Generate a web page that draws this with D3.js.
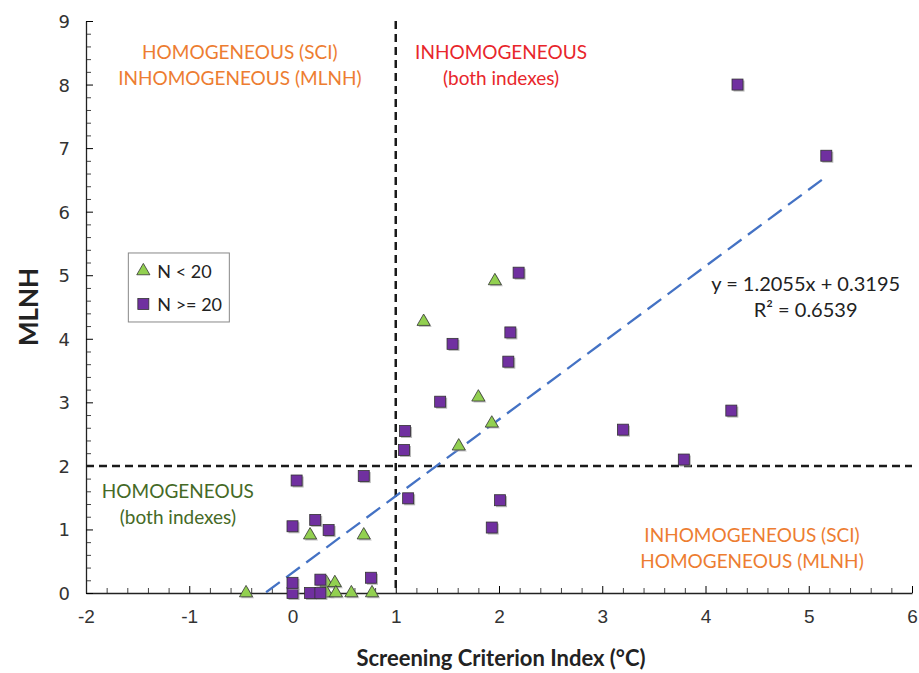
<!DOCTYPE html>
<meta charset="utf-8">
<script src="https://d3js.org/d3.v7.min.js"></script>
<body style="margin:0;background:white">
<div id="chart"></div>
</body>
<script>
// stations with fewer than 20 years (triangles)
const triX = [-0.45, 0.17, 0.33, 0.33, 0.41, 0.42, 0.57, 0.69, 0.77, 1.27, 1.61, 1.80, 1.93, 1.96];
const triY = [0, 0.91, 0.16, 0, 0.16, 0, 0, 0.91, 0, 4.27, 2.31, 3.08, 2.67, 4.91];

// stations with 20 years or more (squares)
const sqX = [0, 0, 0, 0.04, 0.17, 0.22, 0.27, 0.27, 0.35, 0.69, 0.76, 1.08, 1.09, 1.12, 1.43, 1.55, 1.93, 2.01, 2.09, 2.11, 2.19, 3.20, 3.79, 4.25, 4.31, 5.17];
const sqY = [0, 0.16, 1.05, 1.77, 0, 1.15, 0, 0.21, 0.99, 1.84, 0.24, 2.25, 2.55, 1.49, 3.01, 3.92, 1.03, 1.46, 3.64, 4.10, 5.04, 2.57, 2.10, 2.87, 8.00, 6.88];

// linear fit shown on the chart
const slope = 1.2055, intercept = 0.3195, r2 = 0.6539;

// thresholds
const sciLimit = 1, mlnhLimit = 2;

const xTicks = [-2, -1, 0, 1, 2, 3, 4, 5, 6];
const yTicks = [0, 1, 2, 3, 4, 5, 6, 7, 8, 9];

const W = 919, H = 673;
const margin = {top: 21, right: 7, bottom: 80, left: 86};
const w = W - margin.left - margin.right,
      h = H - margin.top - margin.bottom;

const svg = d3.select("#chart").append("svg")
  .attr("width", W).attr("height", H)
  .style("font-family", "Lato, 'Open Sans', sans-serif");

const g = svg.append("g").attr("transform", `translate(${margin.left},${margin.top})`);

const x = d3.scaleLinear().domain([-2, 6]).range([0, w]);
const y = d3.scaleLinear().domain([0, 9]).range([h, 0]);

g.append("clipPath").attr("id", "clip")
  .append("rect").attr("width", w).attr("height", h);

// minor ticks every 0.2
const minorX = d3.range(-2, 6.001, 0.2).filter(v => Math.abs(v - Math.round(v)) > 0.01);
const minorY = d3.range(0, 9.001, 0.2).filter(v => Math.abs(v - Math.round(v)) > 0.01);

g.append("g").attr("transform", `translate(0,${h})`)
  .call(d3.axisBottom(x).tickValues(minorX).tickSize(-5).tickFormat(""))
  .call(a => a.select(".domain").remove())
  .selectAll("line").attr("stroke", "#444");
g.append("g")
  .call(d3.axisLeft(y).tickValues(minorY).tickSize(-5).tickFormat(""))
  .call(a => a.select(".domain").remove())
  .selectAll("line").attr("stroke", "#444");

const xAxis = g.append("g").attr("transform", `translate(0,${h})`)
  .call(d3.axisBottom(x).tickValues(xTicks).tickFormat(d => String(d))
    .tickSizeInner(-7).tickSizeOuter(0).tickPadding(17));
xAxis.select(".domain").attr("stroke", "#222").attr("stroke-width", 1.3);
xAxis.selectAll("text").style("font-size", "19px").attr("fill", "#333");

const yAxis = g.append("g")
  .call(d3.axisLeft(y).tickValues(yTicks).tickFormat(d => String(d))
    .tickSizeInner(-7).tickSizeOuter(0).tickPadding(16));
yAxis.select(".domain").attr("stroke", "#222").attr("stroke-width", 1.3);
yAxis.selectAll("text").style("font-size", "18px").style("font-family", "'DejaVu Sans', sans-serif")
  .attr("fill", "#333").attr("dy", "0.36em");

// threshold lines
g.append("line")
  .attr("x1", x(sciLimit)).attr("x2", x(sciLimit)).attr("y1", 0).attr("y2", h)
  .attr("stroke", "#1a1a1a").attr("stroke-width", 2.5).attr("stroke-dasharray", "8,5");
g.append("line")
  .attr("x1", 0).attr("x2", w).attr("y1", y(mlnhLimit)).attr("y2", y(mlnhLimit))
  .attr("stroke", "#1a1a1a").attr("stroke-width", 2.5).attr("stroke-dasharray", "8,5");

// trend line over the data range
const allX = triX.concat(sqX);
const tx0 = d3.min(allX), tx1 = d3.max(allX);
g.append("line")
  .attr("clip-path", "url(#clip)")
  .attr("x1", x(tx0)).attr("y1", y(slope * tx0 + intercept))
  .attr("x2", x(tx1)).attr("y2", y(slope * tx1 + intercept))
  .attr("stroke", "#4472C4").attr("stroke-width", 2.3).attr("stroke-dasharray", "17,8");

const tri = d3.symbol().type(d3.symbolTriangle).size(75);
const sq = 11;

const triData = triX.map((v, i) => ({x: v, y: triY[i]}));
const sqData = sqX.map((v, i) => ({x: v, y: sqY[i]}));

// triangles
const tg = g.append("g");
triData.forEach(d => {
  tg.append("path").attr("d", tri())
    .attr("transform", `translate(${x(d.x) + 1.5},${y(d.y) + 1.5})`)
    .attr("fill", "#aaa").attr("opacity", 0.7);
  tg.append("path").attr("d", tri())
    .attr("transform", `translate(${x(d.x)},${y(d.y)})`)
    .attr("fill", "#92D050").attr("stroke", "#333").attr("stroke-width", 0.8);
});

// squares
const sg = g.append("g");
sqData.forEach(d => {
  sg.append("rect")
    .attr("x", x(d.x) - sq / 2 + 1.5).attr("y", y(d.y) - sq / 2 + 1.5)
    .attr("width", sq).attr("height", sq)
    .attr("fill", "#999").attr("opacity", 0.7);
  sg.append("rect")
    .attr("x", x(d.x) - sq / 2).attr("y", y(d.y) - sq / 2)
    .attr("width", sq).attr("height", sq)
    .attr("fill", "#7030A0").attr("stroke", "#333").attr("stroke-width", 0.8);
});

// quadrant labels
function label(lines, cx, cy, color) {
  lines.forEach((t, i) => {
    g.append("text")
      .attr("x", x(cx)).attr("y", y(cy) + i * 26)
      .attr("text-anchor", "middle")
      .attr("fill", color).style("font-size", "19px")
      .text(t);
  });
}
label(["HOMOGENEOUS (SCI)", "INHOMOGENEOUS (MLNH)"], -0.51, 8.40, "#ED7D31");
label(["INHOMOGENEOUS", "(both indexes)"], 2.02, 8.40, "#E8262B");
label(["HOMOGENEOUS", "(both indexes)"], -1.11, 1.49, "#456A26");
label(["INHOMOGENEOUS (SCI)", "HOMOGENEOUS (MLNH)"], 4.45, 0.80, "#ED7D31");

// regression text
const eq = g.append("text")
  .attr("x", x(4.97)).attr("y", y(4.75))
  .attr("text-anchor", "middle").attr("fill", "#222").style("font-size", "20px");
eq.text(`y = ${slope}x + ${intercept}`);
const rt = g.append("text")
  .attr("x", x(4.97)).attr("y", y(4.75) + 26)
  .attr("text-anchor", "middle").attr("fill", "#222").style("font-size", "20px");
rt.text(`R² = ${r2}`);

// legend
const lg = g.append("g").attr("transform", `translate(${x(-1.59)},${y(5.35)})`);
lg.append("rect").attr("width", 101).attr("height", 69)
  .attr("fill", "white").attr("stroke", "#888").attr("stroke-width", 1);
lg.append("path").attr("d", tri()).attr("transform", "translate(15,18)")
  .attr("fill", "#92D050").attr("stroke", "#333").attr("stroke-width", 0.8);
lg.append("rect").attr("x", 15 - sq / 2).attr("y", 51 - sq / 2).attr("width", sq).attr("height", sq)
  .attr("fill", "#7030A0").attr("stroke", "#333").attr("stroke-width", 0.8);
lg.append("text").attr("x", 29).attr("y", 25).style("font-size", "18px").attr("fill", "#222").text("N < 20");
lg.append("text").attr("x", 29).attr("y", 58).style("font-size", "18px").attr("fill", "#222").text("N >= 20");

// axis titles
svg.append("text")
  .attr("transform", `translate(38,${margin.top + h / 2}) rotate(-90)`)
  .attr("text-anchor", "middle")
  .style("font-size", "26px").style("font-weight", "bold").attr("fill", "#222")
  .text("MLNH");
svg.append("text")
  .attr("x", margin.left + w / 2 + 2).attr("y", 666)
  .attr("text-anchor", "middle")
  .style("font-size", "22px").style("font-weight", "bold").attr("fill", "#222")
  .text("Screening Criterion Index (°C)");
</script>
